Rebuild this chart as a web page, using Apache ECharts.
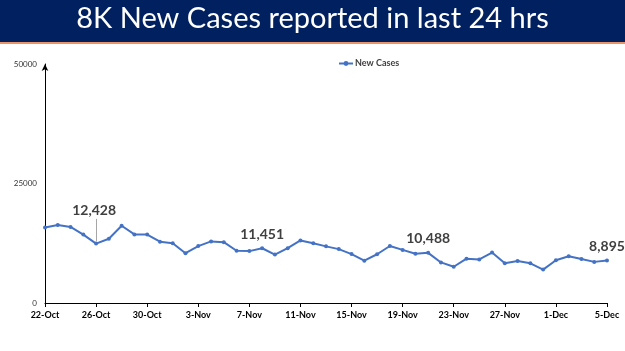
<!doctype html>
<html>
<head>
<meta charset="UTF-8">
<title>8K New Cases</title>
<script src="https://cdn.jsdelivr.net/npm/echarts@6/dist/echarts.min.js"></script>
<style>
  html, body { margin: 0; padding: 0; background: #fff; }
  #chart { width: 625px; height: 351px; }
</style>
</head>
<body>
<div id="chart"></div>
<script>
var dates = ['22-Oct', '23-Oct', '24-Oct', '25-Oct', '26-Oct', '27-Oct', '28-Oct', '29-Oct', '30-Oct', '31-Oct',
  '1-Nov', '2-Nov', '3-Nov', '4-Nov', '5-Nov', '6-Nov', '7-Nov', '8-Nov', '9-Nov', '10-Nov',
  '11-Nov', '12-Nov', '13-Nov', '14-Nov', '15-Nov', '16-Nov', '17-Nov', '18-Nov', '19-Nov', '20-Nov',
  '21-Nov', '22-Nov', '23-Nov', '24-Nov', '25-Nov', '26-Nov', '27-Nov', '28-Nov', '29-Nov', '30-Nov',
  '1-Dec', '2-Dec', '3-Dec', '4-Dec', '5-Dec'];
var newCases = [15786, 16326, 15906, 14306, 12428, 13451, 16156, 14348, 14313, 12830,
  12514, 10423, 11903, 12885, 12729, 10929, 10853, 11451, 10126, 11466,
  13091, 12516, 11850, 11271, 10229, 8865, 10197, 11919, 11106, 10302,
  10488, 8488, 7579, 9283, 9119, 10549, 8318, 8774, 8309, 6990,
  8954, 9765, 9216, 8603, 8895];
var yTicks = [0, 25000, 50000];
// points that carry a value label
var labelled = ['26-Oct', '8-Nov', '21-Nov', '5-Dec'];

var labelFont = { show: true, position: 'top', color: '#404040', fontSize: 14, fontWeight: 'bold', fontFamily: 'Lato',
  formatter: function (p) { return p.value.toLocaleString('en-US'); } };

var seriesData = newCases.map(function (v, i) {
  var item = { value: v };
  var k = labelled.indexOf(dates[i]);
  if (k >= 0) {
    item.label = Object.assign({}, labelFont);
    if (k === 0) item.label.offset = [-2, -19];
  }
  return item;
});

var chart = echarts.init(document.getElementById('chart'));
chart.setOption({
  animation: false,
  graphic: [
    { type: 'rect', shape: { x: 0, y: 0, width: 625, height: 42 }, style: { fill: '#002060' } },
    { type: 'rect', shape: { x: 0, y: 42, width: 625, height: 2 }, style: { fill: '#E9936A' } },
    { type: 'text', left: 'center', top: 4,
      style: { text: '8K New Cases reported in last 24 hrs', fill: '#fff', fontSize: 29, fontFamily: 'Lato' } }
  ],
  legend: {
    data: ['New Cases'],
    left: 333, top: 54,
    itemWidth: 14, itemHeight: 6, itemGap: 2,
    textStyle: { fontSize: 9, color: '#404040', fontWeight: 'bold', fontFamily: 'Lato', padding: [0, 0, 0, -3] }
  },
  grid: { left: 45, right: 18, top: 64, bottom: 48 },
  xAxis: {
    type: 'category',
    data: dates,
    boundaryGap: false,
    axisLine: { lineStyle: { color: '#000', width: 1 } },
    axisTick: { interval: 3, length: 4, lineStyle: { color: '#000' } },
    axisLabel: { interval: 3, color: '#000', fontSize: 9, fontWeight: 'bold', fontFamily: 'Lato', margin: 8 }
  },
  yAxis: {
    type: 'value',
    min: yTicks[0], max: yTicks[2], interval: yTicks[1] - yTicks[0],
    splitLine: { show: false },
    axisTick: { show: false },
    axisLine: { show: true, symbol: ['none', 'arrow'], symbolSize: [5, 7], lineStyle: { color: '#000', width: 1 } },
    axisLabel: { color: '#333', fontSize: 8, fontFamily: 'Lato', margin: 8,
      formatter: function (v) { return String(v); } }
  },
  series: [{
    name: 'New Cases',
    type: 'line',
    data: seriesData,
    symbol: 'circle',
    symbolSize: 4,
    lineStyle: { color: '#4472C4', width: 2 },
    itemStyle: { color: '#4472C4' },
    markLine: {
      silent: true,
      symbol: 'none',
      label: { show: false },
      lineStyle: { color: '#A6A6A6', width: 1, type: 'solid' },
      data: [[{ coord: ['26-Oct', 12900] }, { coord: ['26-Oct', 17600] }]]
    }
  }]
});
</script>
</body>
</html>
